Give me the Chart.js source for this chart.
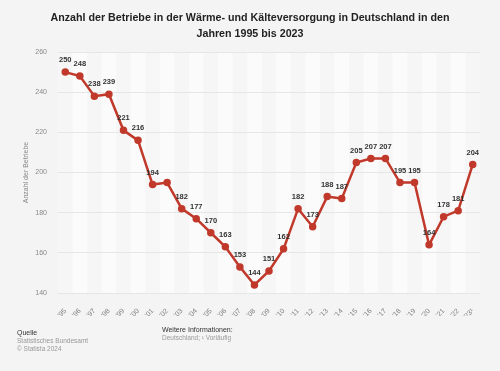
<!DOCTYPE html>
<html>
<head>
<meta charset="utf-8">
<script src="https://cdn.jsdelivr.net/npm/chart.js@4"></script>
<style>
  body { margin: 0; background: #f4f4f4; font-family: "Liberation Sans", Arial, sans-serif; }
  #wrap { position: relative; width: 500px; height: 371px; }
  #title { position: absolute; left: 0; top: 9px; width: 500px; text-align: center; font-weight: bold; font-size: 10.7px; line-height: 16px; color: #222; }
  .foot { position: absolute; font-size: 6.5px; line-height: 8px; color: #999; }
  .foot b { color: #333; font-weight: normal; font-size: 7px; }
  canvas { position: absolute; left: 0; top: 0; }
</style>
</head>
<body>
<div id="wrap">
  <canvas id="chart" width="500" height="371"></canvas>
  <div id="title">Anzahl der Betriebe in der Wärme- und Kälteversorgung in Deutschland in den<br>Jahren 1995 bis 2023</div>
  <div class="foot" style="left:17px; top:329px;"><b>Quelle</b><br>Statistisches Bundesamt<br>© Statista 2024</div>
  <div class="foot" style="left:162px; top:326px;"><b>Weitere Informationen:</b><br>Deutschland; ¹ Vorläufig</div>
</div>
<script>
const years = ["'95","'96","'97","'98","'99","'00","'01","'02","'03","'04","'05","'06","'07","'08","'09",
  "'10","'11","'12","'13","'14","'15","'16","'17","'18","'19","'20","'21","'22","'23¹"];
const betriebe = [250, 248, 238, 239, 221, 216, 194, 195, 182, 177, 170, 163, 153, 144, 151,
  162, 182, 173, 188, 187, 205, 207, 207, 195, 195, 164, 178, 181, 204];
const hiddenLabels = [7]; // '02 has no value label in the original

const red = '#c0392b';

// alternating column bands behind the line
const bands = {
  id: 'bands',
  beforeDraw(chart) {
    const { ctx, chartArea: a, scales: { x } } = chart;
    const step = x.getPixelForValue(1) - x.getPixelForValue(0);
    ctx.save();
    ctx.fillStyle = '#f6f6f6';
    ctx.fillRect(a.left, a.top, a.right - a.left, a.bottom - a.top);
    ctx.fillStyle = '#fbfbfb';
    years.forEach((_, i) => {
      if (i % 2 == 1) ctx.fillRect(x.getPixelForValue(i) - step / 2, a.top, step, a.bottom - a.top);
    });
    ctx.restore();
  }
};

// value labels above points
const valueLabels = {
  id: 'valueLabels',
  afterDatasetsDraw(chart) {
    const ctx = chart.ctx;
    const meta = chart.getDatasetMeta(0);
    ctx.save();
    ctx.font = 'bold 7.5px "Liberation Sans", Arial, sans-serif';
    ctx.fillStyle = '#333';
    ctx.textAlign = 'center';
    ctx.textBaseline = 'middle';
    meta.data.forEach((pt, i) => {
      if (hiddenLabels.includes(i)) return;
      ctx.fillText(betriebe[i], pt.x, pt.y - 12);
    });
    ctx.restore();
  }
};

new Chart(document.getElementById('chart'), {
  type: 'line',
  data: {
    labels: years,
    datasets: [{
      data: betriebe,
      borderColor: red,
      backgroundColor: red,
      borderWidth: 2.5,
      pointRadius: 2.5,
      pointHoverRadius: 2.5,
      tension: 0,
      fill: false
    }]
  },
  options: {
    responsive: false,
    animation: false,
    layout: { padding: { top: 52, right: 20, left: 0, bottom: 55 } },
    plugins: { legend: { display: false }, tooltip: { enabled: false } },
    scales: {
      x: {
        offset: true,
        grid: { display: false },
        border: { display: false },
        ticks: {
          minRotation: 45, maxRotation: 45, autoSkip: false, padding: 6,
          color: '#808080', font: { size: 7, family: '"Liberation Sans", Arial, sans-serif' }
        },
        afterFit(scale) { scale.height = 23; }
      },
      y: {
        min: 140, max: 260,
        grid: { color: '#e6e6e6', drawTicks: false },
        border: { display: false },
        ticks: {
          stepSize: 20, padding: 11,
          color: '#888', font: { size: 7, family: '"Liberation Sans", Arial, sans-serif' }
        },
        title: {
          display: true, text: 'Anzahl der Betriebe', color: '#888',
          font: { size: 7, family: '"Liberation Sans", Arial, sans-serif' },
          padding: { top: 22, bottom: 0 }
        },
        afterFit(scale) { scale.width = 58; }
      }
    }
  },
  plugins: [bands, valueLabels]
});
</script>
</body>
</html>
